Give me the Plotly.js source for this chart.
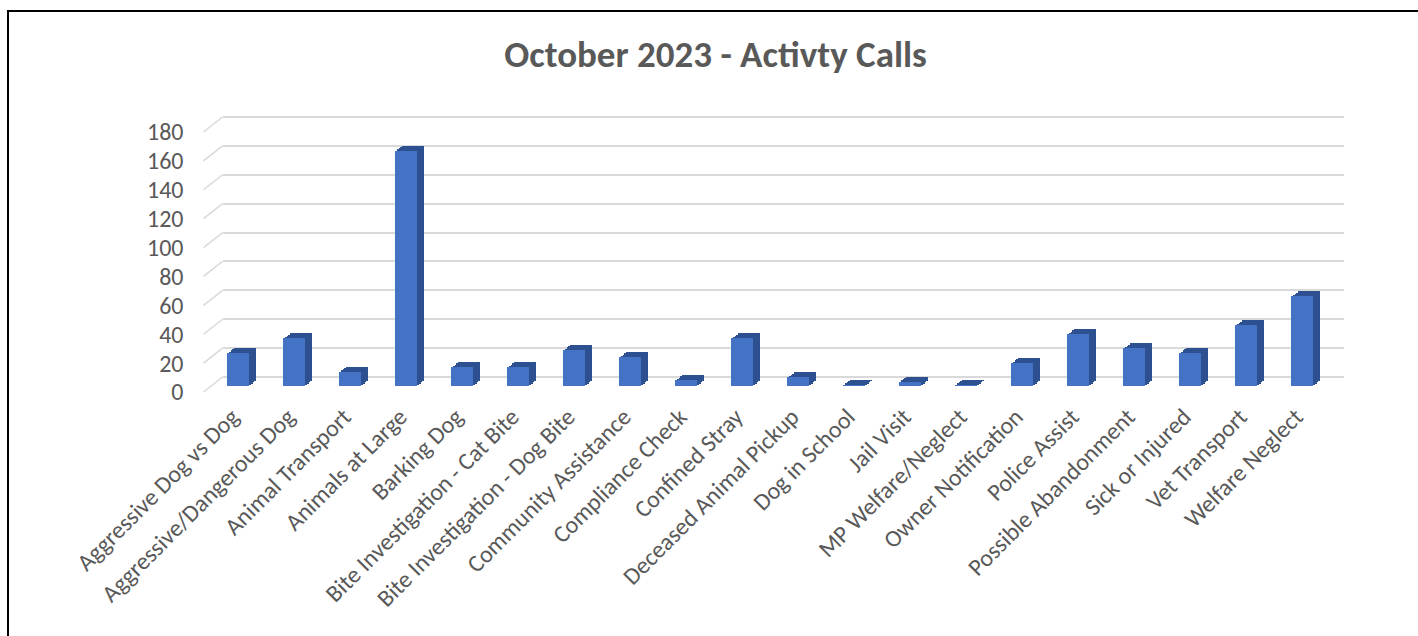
<!DOCTYPE html>
<html>
<head>
<meta charset="utf-8">
<script src="https://cdn.plot.ly/plotly-3.0.1.min.js"></script>
<style>
  html, body { margin: 0; padding: 0; background: #ffffff; overflow: hidden; }
  #wrap { position: relative; width: 1418px; height: 636px; }
  #chart { position: absolute; left: 0; top: 0; width: 1418px; height: 636px; }
  #frame { position: absolute; left: 7px; top: 10px; width: 1440px; height: 700px;
           border-left: 2px solid #000; border-top: 2px solid #000; pointer-events: none; }
</style>
</head>
<body>
<div id="wrap">
  <div id="chart"></div>
  <div id="frame"></div>
</div>
<script>
// ---- data ----
const categories = [
  "Aggressive Dog vs Dog", "Aggressive/Dangerous Dog", "Animal Transport", "Animals at Large",
  "Barking Dog", "Bite Investigation - Cat Bite", "Bite Investigation - Dog Bite",
  "Community Assistance", "Compliance Check", "Confined Stray", "Deceased Animal Pickup",
  "Dog in School", "Jail Visit", "MP Welfare/Neglect", "Owner Notification", "Police Assist",
  "Possible Abandonment", "Sick or Injured", "Vet Transport", "Welfare Neglect"
];
const calls = [23, 33, 10, 163, 13, 13, 25, 20, 4, 33, 6, 1, 3, 1, 16, 36, 26, 23, 42, 62];
const yTicks = [0, 20, 40, 60, 80, 100, 120, 140, 160, 180];
const chartTitle = "October 2023 - Activty Calls";

// ---- layout geometry (pixels) ----
const W = 1418, H = 636;
const gridLeft = 222.5, gridRight = 1343.5;     // back wall extent
const plotTop = 100, plotBottom = 392;           // y domain in pixels
const firstCenter = 238, step = 56;              // front face category positions
const pxPerUnit = 260 / 180;
const back0 = 377, front0 = 386;                 // pixel of value 0 on back wall / bar front
const depthX = 7, depthY = 5;                    // bar extrusion in pixels

function xRange(shift) {
  return [(gridLeft - firstCenter - shift) / step, (gridRight - firstCenter - shift) / step];
}
function yRange(zeroPx) {
  return [-(plotBottom - zeroPx) / pxPerUnit, (zeroPx - plotTop) / pxPerUnit];
}
const xDomain = [gridLeft / W, gridRight / W];
const yDomain = [(H - plotBottom) / H, (H - plotTop) / H];
const font = "Carlito, Lato, 'Open Sans', sans-serif";
const grey = "#595959";
const barWidth = 22 / step;

// extrusion layers (back to front), then the front face
const layers = [1, 0.75, 0.5, 0.25];
const traces = [];
const layout = {
  width: W, height: H,
  margin: { l: 0, r: 0, t: 0, b: 0 },
  paper_bgcolor: "rgba(0,0,0,0)", plot_bgcolor: "rgba(0,0,0,0)",
  showlegend: false,
  title: { text: chartTitle, x: 715.5 / W, xanchor: "center", xref: "paper",
           y: 1 - 54 / H, yanchor: "middle", yref: "container",
           font: { family: font, size: 37, color: grey, weight: "bold" } },
  font: { family: font, color: grey },
  xaxis: { domain: xDomain, type: "category", range: xRange(0), showticklabels: false,
           showgrid: false, zeroline: false, showline: false, ticks: "" },
  yaxis: { domain: yDomain, range: yRange(back0), tickvals: yTicks, showticklabels: false,
           showgrid: true, gridcolor: "#D9D9D9", gridwidth: 2, zeroline: false, ticks: "" },
  bargap: 0
};

layers.forEach((f, i) => {
  const n = i + 2;
  traces.push({ type: "bar", x: categories, y: calls, xaxis: "x" + n, yaxis: "y" + n,
    marker: { color: "#2D5091", line: { width: 0 } }, width: barWidth, hoverinfo: "skip" });
  layout["xaxis" + n] = { overlaying: "x", anchor: "y" + n, type: "category",
    range: xRange(depthX * f), showticklabels: false, showgrid: false, zeroline: false, ticks: "" };
  layout["yaxis" + n] = { overlaying: "y", anchor: "x" + n,
    range: yRange(front0 - depthY * f), showticklabels: false, showgrid: false, zeroline: false, ticks: "" };
});

const fn = layers.length + 2;
traces.push({ type: "bar", x: categories, y: calls, xaxis: "x" + fn, yaxis: "y" + fn,
  marker: { color: "#4472C4", line: { width: 0 } }, width: barWidth,
  hovertemplate: "%{x}: %{y}<extra></extra>" });
layout["xaxis" + fn] = { overlaying: "x", anchor: "y" + fn, type: "category", range: xRange(0),
  showgrid: false, zeroline: false, ticks: "", tickangle: -45,
  ticklabelshift: -6, ticklabelstandoff: 5,
  tickfont: { family: font, size: 24, color: grey } };
layout["yaxis" + fn] = { overlaying: "y", anchor: "x" + fn, side: "left", range: yRange(front0),
  tickvals: yTicks, showgrid: false, zeroline: false, ticks: "",
  ticklabelstandoff: 38, ticklabelshift: 6,
  tickfont: { family: font, size: 24, color: grey } };

// slanted floor-to-wall connectors at each gridline on the left side
layout.shapes = yTicks.map(v => ({
  type: "line", xref: "x domain", yref: "y",
  x0: -19 / (gridRight - gridLeft), x1: 0,
  y0: v - 15 / pxPerUnit, y1: v,
  line: { color: "#D9D9D9", width: 1.5 }, layer: "below"
}));

Plotly.newPlot("chart", traces, layout, { displayModeBar: false, staticPlot: true });
</script>
</body>
</html>
